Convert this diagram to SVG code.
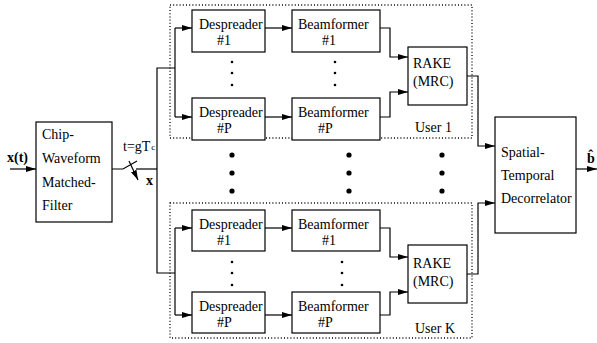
<svg xmlns="http://www.w3.org/2000/svg" width="597" height="343" viewBox="0 0 597 343" font-family="'Liberation Serif', 'DejaVu Serif', serif">
  <defs>
    <marker id="arr" markerUnits="userSpaceOnUse" markerWidth="10" markerHeight="8" refX="10" refY="4" orient="auto">
      <path d="M0,1 L10,4 L0,7 Z" fill="#000"/>
    </marker>
    <style>
      text { font-family: 'Liberation Serif', 'DejaVu Serif', serif; font-size: 14px; fill: #000; }
      .b { font-weight: bold; }
      .box { fill: #fff; stroke: #000; stroke-width: 1.2; }
      .grp { fill: none; stroke: #000; stroke-width: 1.3; stroke-dasharray: 1 2.2; }
      .ln { fill: none; stroke: #000; stroke-width: 1.2; }
      .ar { fill: none; stroke: #000; stroke-width: 1.2; marker-end: url(#arr); }
      .sd { fill: #000; }
    </style>
  </defs>
  <rect width="597" height="343" fill="#fff"/>

  <!-- signal paths -->
  <g id="connectors">
    <path class="ar" d="M10,169 H36"/>
    <!-- sampling switch -->
    <path class="ln" d="M112,169 H123 L137,161"/>
    <path class="ln" d="M136,169 H157"/>
    <path class="ar" d="M129,161 L138,180"/>
    <!-- distribution bus -->
    <path class="ln" d="M175,68 H157 V273 H175"/>
    <path class="ln" d="M175,28 V117"/>
    <path class="ln" d="M175,228 V315"/>
    <path class="ar" d="M175,28 H192"/>
    <path class="ar" d="M175,117 H192"/>
    <path class="ar" d="M175,228 H192"/>
    <path class="ar" d="M175,315 H192"/>
    <!-- despreader to beamformer -->
    <path class="ar" d="M265,28 H292"/>
    <path class="ar" d="M265,117 H292"/>
    <path class="ar" d="M265,228 H292"/>
    <path class="ar" d="M265,315 H292"/>
    <!-- beamformer to RAKE -->
    <path class="ar" d="M380,28 H390 V57 H408"/>
    <path class="ar" d="M380,117 H390 V92 H408"/>
    <path class="ar" d="M380,228 H390 V257 H408"/>
    <path class="ar" d="M380,315 H390 V292 H408"/>
    <!-- RAKE to decorrelator -->
    <path class="ar" d="M467,76 H478 V146 H495"/>
    <path class="ar" d="M467,274 H478 V203 H495"/>
    <!-- output -->
    <path class="ar" d="M576,169 H597"/>
  </g>

  <g id="input-label">
    <text class="b" x="7" y="162">x(t)</text>
  </g>

  <g id="chip-filter">
    <rect class="box" x="36" y="122" width="76" height="100"/>
    <text x="42" y="139">Chip-</text>
    <text x="42" y="163">Waveform</text>
    <text x="42" y="187">Matched-</text>
    <text x="42" y="210">Filter</text>
  </g>

  <g id="sampler-label">
    <text x="123" y="151">t=gT<tspan font-size="9" dx="1" dy="-1">c</tspan></text>
    <text class="b" x="146" y="185">x</text>
  </g>

  <g id="user-1">
    <rect class="grp" x="170" y="5" width="302" height="133"/>
    <g id="u1-desp1">
      <rect class="box" x="192" y="10" width="73" height="42"/>
      <text x="199" y="29">Despreader</text>
      <text x="217" y="45">#1</text>
    </g>
    <g id="u1-despP">
      <rect class="box" x="192" y="98" width="73" height="42"/>
      <text x="199" y="117">Despreader</text>
      <text x="217" y="133">#P</text>
    </g>
    <g id="u1-beam1">
      <rect class="box" x="292" y="10" width="88" height="42"/>
      <text x="298" y="29">Beamformer</text>
      <text x="322" y="45">#1</text>
    </g>
    <g id="u1-beamP">
      <rect class="box" x="292" y="98" width="88" height="42"/>
      <text x="298" y="117">Beamformer</text>
      <text x="318" y="133">#P</text>
    </g>
    <g id="u1-rake">
      <rect class="box" x="408" y="47" width="59" height="58"/>
      <text x="413" y="68">RAKE</text>
      <text x="413" y="86">(MRC)</text>
    </g>
    <circle class="sd" cx="232" cy="62" r="1.3"/>
    <circle class="sd" cx="232" cy="73" r="1.3"/>
    <circle class="sd" cx="232" cy="85" r="1.3"/>
    <circle class="sd" cx="335" cy="62" r="1.3"/>
    <circle class="sd" cx="335" cy="73" r="1.3"/>
    <circle class="sd" cx="335" cy="85" r="1.3"/>
    <text x="415" y="132">User 1</text>
  </g>

  <g id="user-dots">
    <circle class="sd" cx="232" cy="155" r="2.6"/>
    <circle class="sd" cx="232" cy="173" r="2.6"/>
    <circle class="sd" cx="232" cy="191" r="2.6"/>
    <circle class="sd" cx="349" cy="155" r="2.6"/>
    <circle class="sd" cx="349" cy="173" r="2.6"/>
    <circle class="sd" cx="349" cy="191" r="2.6"/>
    <circle class="sd" cx="442" cy="155" r="2.6"/>
    <circle class="sd" cx="442" cy="173" r="2.6"/>
    <circle class="sd" cx="442" cy="191" r="2.6"/>
  </g>

  <g id="user-K">
    <rect class="grp" x="170" y="203" width="302" height="135"/>
    <g id="uK-desp1">
      <rect class="box" x="192" y="210" width="73" height="41"/>
      <text x="199" y="229">Despreader</text>
      <text x="217" y="245">#1</text>
    </g>
    <g id="uK-despP">
      <rect class="box" x="192" y="292" width="73" height="41"/>
      <text x="199" y="311">Despreader</text>
      <text x="217" y="327">#P</text>
    </g>
    <g id="uK-beam1">
      <rect class="box" x="292" y="210" width="88" height="41"/>
      <text x="298" y="229">Beamformer</text>
      <text x="322" y="245">#1</text>
    </g>
    <g id="uK-beamP">
      <rect class="box" x="292" y="292" width="88" height="41"/>
      <text x="298" y="311">Beamformer</text>
      <text x="318" y="327">#P</text>
    </g>
    <g id="uK-rake">
      <rect class="box" x="408" y="245" width="59" height="58"/>
      <text x="413" y="268">RAKE</text>
      <text x="413" y="286">(MRC)</text>
    </g>
    <circle class="sd" cx="232" cy="262" r="1.3"/>
    <circle class="sd" cx="232" cy="273" r="1.3"/>
    <circle class="sd" cx="232" cy="285" r="1.3"/>
    <circle class="sd" cx="342" cy="262" r="1.3"/>
    <circle class="sd" cx="342" cy="273" r="1.3"/>
    <circle class="sd" cx="342" cy="285" r="1.3"/>
    <text x="415" y="333">User K</text>
  </g>

  <g id="decorrelator">
    <rect class="box" x="495" y="117" width="81" height="116"/>
    <text x="501" y="157">Spatial-</text>
    <text x="501" y="180">Temporal</text>
    <text x="501" y="203">Decorrelator</text>
  </g>

  <g id="output-label">
    <text class="b" x="587" y="163">b&#x302;</text>
  </g>
</svg>
